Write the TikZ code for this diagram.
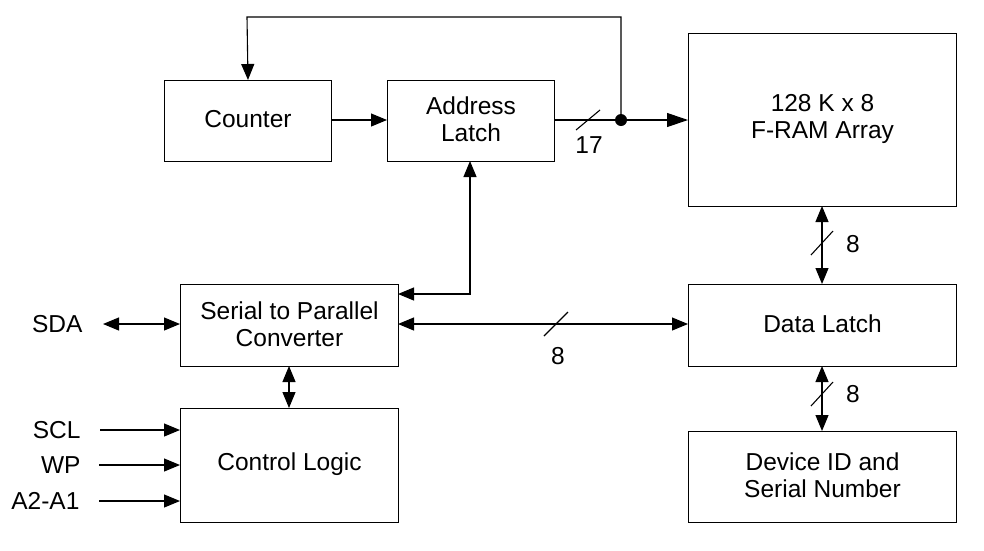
\documentclass[tikz,border=0pt]{standalone}
\usepackage{fontspec}
\setmainfont{Liberation Sans}
\usetikzlibrary{arrows.meta}
\begin{document}
\begin{tikzpicture}[x=1pt,y=-1pt,
  blk/.style={draw, line width=1pt, inner sep=0pt, anchor=north west, align=center},
  lbl/.style={font=\fontsize{24.5}{27}\selectfont, align=center},
  inlbl/.style={lbl, yshift=1.5pt},
  conn/.style={line width=1.1pt, -{Triangle[length=16pt,width=13pt]}},
  bconn/.style={line width=1.1pt, {Triangle[length=16pt,width=13pt]}-{Triangle[length=16pt,width=13pt]}},
  slash/.style={line width=1.1pt}
]
\useasboundingbox (0,0) rectangle (984,550);
% boxes
\node[blk, minimum width=167pt, minimum height=81pt] (cnt) at (164,80) {};
\node[inlbl] at (cnt.center) {Counter};
\node[blk, minimum width=167pt, minimum height=81pt] (al) at (387,80) {};
\node[inlbl] at (al.center) {Address\\Latch};
\node[blk, minimum width=268pt, minimum height=173pt] (fram) at (688,33) {};
\node[inlbl] at (fram.center) {128 K x 8\\F-RAM Array};
\node[blk, minimum width=218pt, minimum height=82pt] (sp) at (180,284) {};
\node[inlbl] at (sp.center) {Serial to Parallel\\Converter};
\node[blk, minimum width=268pt, minimum height=82pt] (dl) at (688,284) {};
\node[inlbl] at (dl.center) {Data Latch};
\node[blk, minimum width=218pt, minimum height=114pt] (cl) at (180,408) {};
\node[inlbl] at (cl.center) {Control Logic};
\node[blk, minimum width=268pt, minimum height=91pt] (dev) at (688,431) {};
\node[inlbl] at (dev.center) {Device ID and\\Serial Number};
% labels
\node[lbl, anchor=base east] (sda) at (86,332) {SDA};
\node[lbl, anchor=base east] (scl) at (84,438) {SCL};
\node[lbl, anchor=base east] (wp) at (84,473) {WP};
\node[lbl, anchor=base east] (a21) at (83,509) {A2-A1};
\coordinate (sdaL) at (103,324);
\coordinate (sclL) at (100,430);
\coordinate (wpL) at (99,465);
\coordinate (a21L) at (99,501);
% coordinates
\coordinate (dot) at (621,120);
\coordinate (top1) at (621,17);
\coordinate (top2) at (247,17);
\coordinate (alL) at (387,120);
\coordinate (cntR) at (331,120);
\coordinate (alR) at (554,120);
\coordinate (framL) at (688,120);
\coordinate (alB) at (470,161);
\coordinate (corner) at (470,294);
\coordinate (spR1) at (398,294);
\coordinate (spR2) at (398,324);
\coordinate (dlL) at (688,324);
\coordinate (spB) at (289,366);
\coordinate (clT) at (289,408);
\coordinate (framB) at (822,206);
\coordinate (dlT) at (822,284);
\coordinate (dlB) at (822,366);
\coordinate (devT) at (822,431);
% connectors
\draw[conn] (cntR) -- (alL);
\draw[conn, -{Triangle[length=21pt,width=14pt]}] (alR) -- (framL);
\fill (dot) circle (6pt);
\draw[conn] (dot) -- (top1) -- (top2) -- (cnt.north);
\draw[bconn] (alB) -- (corner) -- (spR1);
\draw[bconn] (sdaL) -- (sp.west |- sdaL);
\draw[bconn] (spR2) -- (dlL);
\draw[bconn] (spB) -- (clT);
\draw[bconn] (framB) -- (dlT);
\draw[bconn] (dlB) -- (devT);
\draw[conn] (sclL) -- (cl.west |- sclL);
\draw[conn] (wpL) -- (cl.west |- wpL);
\draw[conn] (a21L) -- (cl.west |- a21L);
% slashes
\draw[slash] (576,130) -- (600,110);
\node[lbl] (n17) at (589,145) {17};
\draw[slash] (544,336) -- (568,312);
\node[lbl] (n8a) at (558,356) {8};
\draw[slash] (811,255) -- (833,231);
\node[lbl] (n8b) at (853,244) {8};
\draw[slash] (811,406) -- (833,382);
\node[lbl] (n8c) at (853,394) {8};
\end{tikzpicture}
\end{document}
